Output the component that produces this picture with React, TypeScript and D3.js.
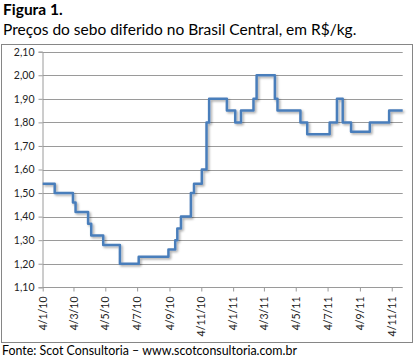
import { useRef, useEffect } from "react";
import * as d3 from "d3";

// step changes: date where a new price starts, and the price in R$/kg
const stepDates: string[] = [
    "2010-01-04", "2010-01-27", "2010-03-03", "2010-03-08", "2010-04-01",
    "2010-04-07", "2010-04-30", "2010-06-01", "2010-07-07", "2010-09-02",
    "2010-09-15", "2010-09-19", "2010-09-26", "2010-10-15", "2010-10-21",
    "2010-11-05", "2010-11-14", "2010-11-19", "2010-12-23", "2011-01-08",
    "2011-01-19", "2011-02-12", "2011-02-18", "2011-03-25", "2011-03-30",
    "2011-05-13", "2011-05-26", "2011-07-08", "2011-07-22", "2011-08-02",
    "2011-08-18", "2011-09-23", "2011-10-30", "2011-11-25",
];
const stepPrices: number[] = [
    1.54, 1.5, 1.46, 1.42, 1.37,
    1.32, 1.28, 1.2, 1.23, 1.26,
    1.3, 1.35, 1.4, 1.5, 1.54,
    1.6, 1.8, 1.9, 1.85, 1.8,
    1.85, 1.9, 2.0, 1.9, 1.85,
    1.8, 1.75, 1.8, 1.9, 1.8,
    1.76, 1.8, 1.85, 1.85,
];
const xTickDates: string[] = [
    "2010-01-04", "2010-03-04", "2010-05-04", "2010-07-04", "2010-09-04", "2010-11-04",
    "2011-01-04", "2011-03-04", "2011-05-04", "2011-07-04", "2011-09-04", "2011-11-04",
];
const yTicks: number[] = [1.1, 1.2, 1.3, 1.4, 1.5, 1.6, 1.7, 1.8, 1.9, 2.0, 2.1];

const title = "Figura 1.";
const subtitle = "Preços do sebo diferido no Brasil Central, em R$/kg.";
const source = "Fonte: Scot Consultoria \u2013 www.scotconsultoria.com.br";

const W = 418;
const H = 359;
const FONT = "Lato, 'Open Sans', sans-serif";

const App: React.FC = () => {
    const svgRef = useRef<SVGSVGElement | null>(null);

    useEffect(() => {
        if (!svgRef.current) return;
        const parse = d3.utcParse("%Y-%m-%d");
        const data = stepDates.map((d, i) => ({ date: parse(d) as Date, v: stepPrices[i] }));

        const x = d3
            .scaleUtc()
            .domain([parse("2010-01-04") as Date, parse("2011-11-25") as Date])
            .range([42.7, 402.7]);
        const y = d3.scaleLinear().domain([1.1, 2.1]).range([287.3, 51.7]);

        const svg = d3.select(svgRef.current);
        svg.selectAll("*").remove();

        const defs = svg.append("defs");
        const f = defs
            .append("filter")
            .attr("id", "shadow")
            .attr("x", "-10%")
            .attr("y", "-10%")
            .attr("width", "120%")
            .attr("height", "120%");
        f.append("feDropShadow")
            .attr("dx", 1.5)
            .attr("dy", 1.5)
            .attr("stdDeviation", 1)
            .attr("flood-color", "#000")
            .attr("flood-opacity", 0.35);

        // titles
        svg.append("text")
            .attr("x", 3)
            .attr("y", 15)
            .attr("font-family", FONT)
            .attr("font-weight", "bold")
            .attr("font-size", 15.5)
            .attr("fill", "#000")
            .text(title);
        svg.append("text")
            .attr("x", 3)
            .attr("y", 35)
            .attr("font-family", FONT)
            .attr("font-size", 15.5)
            .attr("fill", "#000")
            .text(subtitle);

        // frame
        svg.append("rect")
            .attr("x", 1.5)
            .attr("y", 44.5)
            .attr("width", 411)
            .attr("height", 298)
            .attr("fill", "#fff")
            .attr("stroke", "#868686");

        // gridlines
        svg.append("g")
            .selectAll("line")
            .data(yTicks)
            .join("line")
            .attr("x1", 42.7)
            .attr("x2", 402.7)
            .attr("y1", (d) => Math.round(y(d)) + 0.5)
            .attr("y2", (d) => Math.round(y(d)) + 0.5)
            .attr("stroke", "#9a9a9a");

        // y axis
        const yAxis = svg
            .append("g")
            .attr("transform", "translate(42.5,0)")
            .call(
                d3
                    .axisLeft(y)
                    .tickValues(yTicks)
                    .tickSize(4)
                    .tickPadding(4)
                    .tickFormat((d) => d3.format(".2f")(d as number).replace(".", ",")),
            );
        yAxis.select(".domain").attr("stroke", "#9a9a9a");
        yAxis.selectAll(".tick line").attr("stroke", "#9a9a9a");
        yAxis.selectAll(".tick text")
            .attr("font-family", FONT)
            .attr("font-size", 10.5)
            .attr("fill", "#222");

        // x axis
        const xAxis = svg
            .append("g")
            .attr("transform", `translate(0,${Math.round(y(1.1)) + 0.5})`)
            .call(
                d3
                    .axisBottom(x)
                    .tickValues(xTickDates.map((d) => parse(d) as Date))
                    .tickSize(4)
                    .tickFormat((d) => d3.utcFormat("%-d/%-m/%y")(d as Date)),
            );
        xAxis.select(".domain").remove();
        xAxis.selectAll(".tick line").attr("stroke", "#9a9a9a");
        xAxis.selectAll(".tick text")
            .attr("font-family", FONT)
            .attr("font-size", 10.5)
            .attr("fill", "#222")
            .attr("text-anchor", "end")
            .attr("transform", "rotate(-90)")
            .attr("x", -9)
            .attr("y", 0)
            .attr("dy", "0.35em");

        // price line
        const line = d3
            .line<{ date: Date; v: number }>()
            .x((d) => x(d.date))
            .y((d) => y(d.v))
            .curve(d3.curveStepAfter);
        svg.append("path")
            .datum(data)
            .attr("d", line)
            .attr("fill", "none")
            .attr("stroke", "#4a7ebb")
            .attr("stroke-width", 2.5)
            .attr("stroke-linejoin", "round")
            .attr("filter", "url(#shadow)");

        // source
        svg.append("text")
            .attr("x", 2)
            .attr("y", 355)
            .attr("font-family", FONT)
            .attr("font-size", 12.4)
            .attr("fill", "#000")
            .text(source);
    }, []);

    return (
        <svg
            ref={svgRef}
            width={W}
            height={H}
            style={{ position: "absolute", left: 0, top: 0, background: "#fff" }}
        />
    );
};

export default App;
